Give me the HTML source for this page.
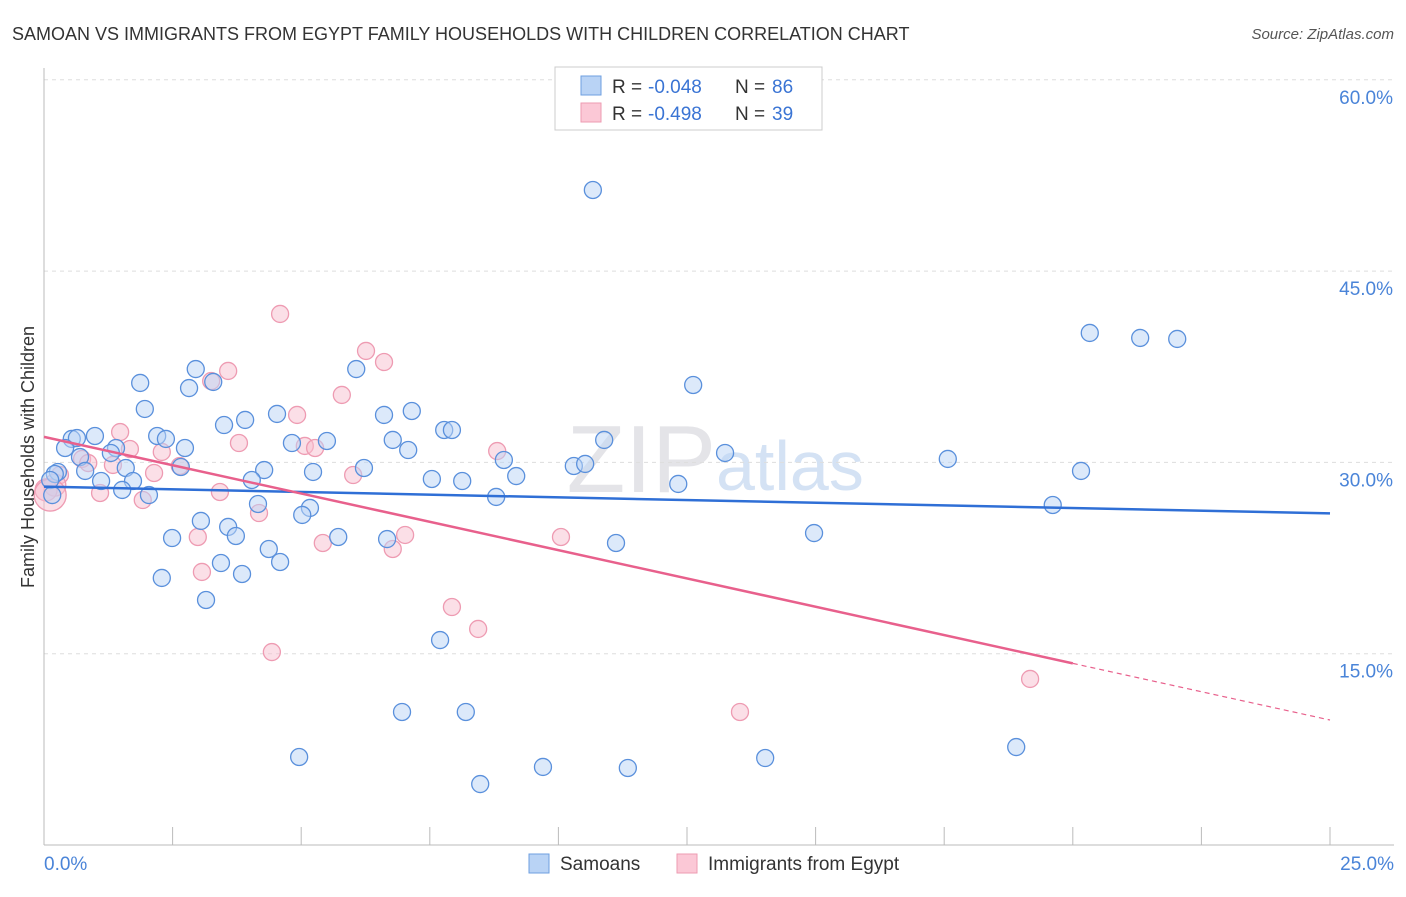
<!DOCTYPE html>
<html><head><meta charset="utf-8">
<style>
body{margin:0;background:#fff;font-family:"Liberation Sans",sans-serif;}
svg text{font-family:"Liberation Sans",sans-serif;}
</style></head>
<body>
<svg id="chart" width="1406" height="892" xmlns="http://www.w3.org/2000/svg">
<text x="12" y="40" font-size="18" fill="#333">SAMOAN VS IMMIGRANTS FROM EGYPT FAMILY HOUSEHOLDS WITH CHILDREN CORRELATION CHART</text>
<text x="1394" y="39" font-size="15" fill="#555" text-anchor="end" font-style="italic">Source: ZipAtlas.com</text>
<text x="716" y="492" font-size="96" fill="#e4e4e8" text-anchor="end" font-family="Liberation Serif">ZIP</text>
<text x="716" y="490" font-size="70" fill="#d4e2f4">atlas</text>
<g id="grid"></g><g id="axes"></g><g id="pts"></g><g id="lines"></g>
<text transform="translate(34,457) rotate(-90)" font-size="18" fill="#333" text-anchor="middle">Family Households with Children</text>
<g>
<rect x="555" y="67" width="267" height="63" fill="#fff" stroke="#ccc"/>
<rect x="581" y="76" width="20" height="19" fill="#b9d3f5" stroke="#6e9fe0"/>
<rect x="581" y="103" width="20" height="19" fill="#fbc8d6" stroke="#ee9bb2"/>
<text x="612" y="93" font-size="19" fill="#333">R =</text>
<text x="648" y="93" font-size="19" fill="#3a74d4">-0.048</text>
<text x="735" y="93" font-size="19" fill="#333">N =</text>
<text x="772" y="93" font-size="19" fill="#3a74d4">86</text>
<text x="612" y="120" font-size="19" fill="#333">R =</text>
<text x="648" y="120" font-size="19" fill="#3a74d4">-0.498</text>
<text x="735" y="120" font-size="19" fill="#333">N =</text>
<text x="772" y="120" font-size="19" fill="#3a74d4">39</text>
</g>
<g>
<rect x="529" y="854" width="20" height="19" fill="#b9d3f5" stroke="#6e9fe0"/>
<text x="560" y="870" font-size="19" fill="#333">Samoans</text>
<rect x="677" y="854" width="20" height="19" fill="#fbc8d6" stroke="#ee9bb2"/>
<text x="708" y="870" font-size="19" fill="#333">Immigrants from Egypt</text>
</g>
</svg>
<script>
const xTickVals=[0,2.5,5,7.5,10,12.5,15,17.5,20,22.5,25];
const yTickVals=[15,30,45,60];
const yTickLabels=["15.0%","30.0%","45.0%","60.0%"];
const samoanX=[10.67,20.33,21.31,22.03,1.87,2.95,2.82,3.29,1.96,4.53,3.91,3.50,6.61,7.15,6.07,7.78,7.93,5.50,4.82,6.78,7.08,2.20,2.37,0.99,0.54,0.64,0.41,1.40,2.74,1.30,0.70,0.80,0.27,0.21,0.12,0.16,1.11,1.59,1.73,1.52,2.04,4.28,5.23,6.22,8.94,7.54,8.13,9.18,10.30,10.52,10.89,12.33,12.62,13.24,17.57,20.16,19.61,8.79,4.16,5.17,5.02,3.05,3.58,3.73,2.49,5.72,6.67,4.37,4.59,3.44,3.85,2.29,3.15,11.12,14.97,7.70,6.96,8.20,4.96,9.70,11.35,14.02,18.90,8.48,2.66,4.04];
const samoanY=[51.36,40.15,39.76,39.68,36.23,37.32,35.83,36.31,34.19,33.80,33.33,32.93,33.72,34.03,37.32,32.54,32.54,31.68,31.52,31.76,30.97,32.07,31.84,32.07,31.84,31.91,31.13,31.13,31.13,30.74,30.42,29.33,29.25,29.09,28.62,27.44,28.54,29.56,28.54,27.84,27.44,29.40,29.25,29.56,30.19,28.70,28.54,28.93,29.72,29.88,31.76,28.31,36.07,30.74,30.27,29.33,26.66,27.29,26.74,26.43,25.88,25.41,24.94,24.23,24.07,24.15,23.99,23.21,22.19,22.11,21.25,20.94,19.21,23.68,24.46,16.07,10.43,10.43,6.90,6.12,6.04,6.82,7.68,4.78,29.64,28.62];
const egyptX=[4.59,6.26,6.61,3.58,3.25,5.79,4.92,1.48,3.79,1.67,5.07,5.27,2.29,2.64,8.81,0.74,0.86,1.34,2.14,0.31,1.09,1.92,3.42,4.18,6.01,7.02,6.78,5.42,2.99,10.05,3.07,7.93,8.44,4.43,13.53,19.17,0.21,0.04,0.12];
const egyptY=[41.64,38.74,37.87,37.17,36.38,35.29,33.72,32.38,31.52,31.05,31.29,31.13,30.82,29.72,30.89,30.27,29.95,29.80,29.17,29.01,27.60,27.05,27.68,26.03,29.01,24.31,23.21,23.68,24.15,24.15,21.41,18.66,16.94,15.13,10.43,13.02,28.22,27.84,27.44];
const samoanTrend=[28.1,26.0];
const egyptTrend=[32.0,9.8];
const egyptSolidEnd=20;

const X0=44,X1=1330,Y0=845,YPX=191.3/15;
const xs=v=>X0+(v/25)*(X1-X0);
const ys=v=>Y0-v*YPX;
const NS="http://www.w3.org/2000/svg";
function mk(tag,attrs,parent){const e=document.createElementNS(NS,tag);for(const k in attrs)e.setAttribute(k,attrs[k]);parent.appendChild(e);return e;}
const grid=document.getElementById('grid'),axes=document.getElementById('axes'),pts=document.getElementById('pts'),lines=document.getElementById('lines');
yTickVals.forEach((v,i)=>{
  const l=mk('line',{x1:X0,x2:1394,y1:ys(v),y2:ys(v),stroke:'#ddd','stroke-dasharray':'4,4'},grid);
  
  
  const t=mk('text',{x:1393,y:ys(v)+24,'font-size':19,fill:'#4a84d8','text-anchor':'end'},axes);
  t.textContent=yTickLabels[i];
  
  
});
const xl=mk('line',{x1:X0,x2:1394,y1:Y0,y2:Y0,stroke:'#bbb'},axes);


const yl=mk('line',{x1:X0,x2:X0,y1:68,y2:Y0,stroke:'#bbb'},axes);


xTickVals.forEach(v=>{
  const t=mk('line',{x1:xs(v),x2:xs(v),y1:Y0,y2:Y0-18,stroke:'#bbb'},axes);
  
  
});
const xa=mk('text',{x:44,y:870,'font-size':19,fill:'#4a84d8'},axes);xa.textContent='0.0%';


const xb=mk('text',{x:1394,y:870,'font-size':19,fill:'#4a84d8','text-anchor':'end'},axes);xb.textContent='25.0%';


function dots(X,Y,fill,stroke,name,big){
  X.forEach((v,i)=>{
    const c=mk('circle',{cx:xs(v),cy:ys(Y[i]),r:(i>=X.length-big?(i==X.length-1?16:11):8.5),fill:fill,'fill-opacity':0.5,stroke:stroke,'stroke-width':1.3},pts);
    
    
  });
}
dots(egyptX,egyptY,'#f8c0d0','#ee9bb2','egypt-point',3);
dots(samoanX,samoanY,'#b9d3f5','#5a90dc','samoan-point',0);
const bl=mk('line',{x1:xs(0),y1:ys(samoanTrend[0]),x2:xs(25),y2:ys(samoanTrend[1]),stroke:'#2f6fd6','stroke-width':2.5},lines);


const ey=x=>egyptTrend[0]+(egyptTrend[1]-egyptTrend[0])*x/25;
const pl=mk('line',{x1:xs(0),y1:ys(ey(0)),x2:xs(egyptSolidEnd),y2:ys(ey(egyptSolidEnd)),stroke:'#e8608c','stroke-width':2.5},lines);


const pd=mk('line',{x1:xs(egyptSolidEnd),y1:ys(ey(egyptSolidEnd)),x2:xs(25),y2:ys(ey(25)),stroke:'#e8608c','stroke-width':1.2,'stroke-dasharray':'5,4'},lines);


</script>
</body></html>
